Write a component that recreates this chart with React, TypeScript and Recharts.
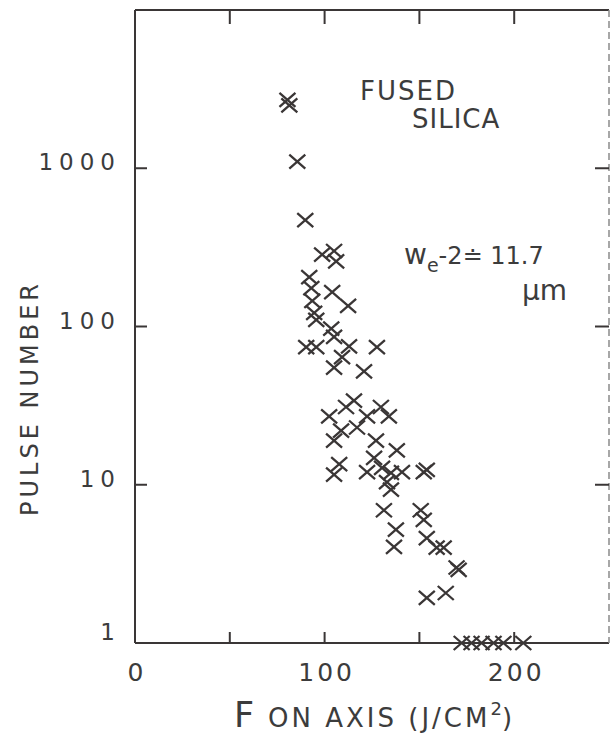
import React from "react";
import { ScatterChart, Scatter, XAxis, YAxis } from "recharts";

const fluence: number[] = [
  80.4, 81.4, 85.6, 89.8, 98.7, 105.0, 106.1, 91.9, 93.0, 104.0,
  93.5, 112.4, 94.5, 95.6, 103.5, 105.0, 90.3, 95.6, 112.9, 109.2,
  127.6, 105.0, 120.8, 115.5, 111.3, 129.7, 102.4, 122.4, 133.9, 108.7,
  117.1, 105.0, 127.1, 138.1, 107.7, 105.0, 126.1, 122.4, 130.3, 135.0,
  140.8, 152.3, 153.9, 132.9, 135.0, 131.3, 150.7, 152.3, 137.6, 136.6,
  153.9, 159.1, 162.8, 169.6, 170.7, 153.9, 163.9, 172.3, 177.5, 182.8,
  189.1, 194.3, 204.8,
];
const pulses: number[] = [
  2700, 2500, 1100, 470, 285, 300, 258, 205, 175, 165,
  145, 135, 122, 110, 97, 86, 74, 74, 75, 64,
  74, 55, 52, 34, 31, 31, 27, 27, 27, 22,
  23, 19, 19, 16.5, 13.5, 11.6, 14.8, 12, 12.8, 11.9,
  12, 12, 12.4, 10.4, 9.3, 6.9, 6.9, 6.0, 5.2, 4.05,
  4.6, 4.0, 4.0, 3.0, 2.9, 1.93, 2.07, 1, 1, 1,
  1, 1, 1,
];
const xTicks: number[] = [0, 50, 100, 150, 200, 250];
const xTickLabels: number[] = [0, 100, 200];
const yTicks: number[] = [1, 10, 100, 1000, 10000];
const yTickLabels: number[] = [1, 10, 100, 1000];

const data = fluence.map((x, i) => ({ x, y: pulses[i] }));

const INK = "#3a3636";
const TXT = "#3c3c3c";
const FONT = "'DejaVu Sans', sans-serif";

const BottomTick = (props: any) => {
  const { x, y, payload } = props;
  const v = payload.value;
  return (
    <g>
      {v > 0 && v < 250 ? (
        <line x1={x} x2={x} y1={y} y2={y - 11} stroke={INK} strokeWidth={2} />
      ) : null}
      {xTickLabels.includes(v) ? (
        <text x={x + 2} y={y + 38} textAnchor="middle" fontSize={25} fill={TXT} fontFamily={FONT} letterSpacing={3}>
          {v}
        </text>
      ) : null}
    </g>
  );
};

const TopTick = (props: any) => {
  const { x, y, payload } = props;
  const v = payload.value;
  if (v <= 0 || v >= 250) return <g />;
  return <line x1={x} x2={x} y1={y} y2={y + 14} stroke={INK} strokeWidth={2} />;
};

const LeftTick = (props: any) => {
  const { x, y, payload } = props;
  const v = payload.value;
  return (
    <g>
      {v > 1 && v < 10000 ? (
        <line x1={x} x2={x + 12} y1={y} y2={y} stroke={INK} strokeWidth={2} />
      ) : null}
      {yTickLabels.includes(v) ? (
        <text x={x - 14} y={v === 1 ? y - 3 : y + 2} textAnchor="end" fontSize={23} fill={TXT} fontFamily={FONT} letterSpacing={6}>
          {v}
        </text>
      ) : null}
    </g>
  );
};

const RightTick = (props: any) => {
  const { x, y, payload } = props;
  const v = payload.value;
  if (v <= 1 || v >= 10000) return <g />;
  return <line x1={x} x2={x - 14} y1={y} y2={y} stroke={INK} strokeWidth={2} />;
};

const Cross = (props: any) => {
  const { cx, cy } = props;
  if (cx == null || cy == null) return <g />;
  return (
    <path
      d={`M${cx - 8},${cy - 7}L${cx + 8},${cy + 7}M${cx - 8},${cy + 7}L${cx + 8},${cy - 7}`}
      stroke={INK}
      strokeWidth={2.3}
      fill="none"
    />
  );
};

const Nothing = () => <g />;

export default function App() {
  return (
    <div style={{ position: "absolute", left: 0, top: 0, width: 610, height: 740, background: "#fff" }}>
      <ScatterChart width={610} height={740} margin={{ top: 9, right: 0, bottom: 96, left: 134 }}>
        <XAxis
          xAxisId="b"
          dataKey="x"
          type="number"
          domain={[0, 250]}
          ticks={xTicks}
          height={1}
          tickSize={0}
          tickMargin={0}
          tickLine={false}
          axisLine={{ stroke: INK, strokeWidth: 2 }}
          tick={<BottomTick />}
          interval={0}
        />
        <XAxis
          xAxisId="t"
          orientation="top"
          dataKey="x"
          type="number"
          domain={[0, 250]}
          ticks={xTicks}
          height={1}
          tickSize={0}
          tickMargin={0}
          tickLine={false}
          axisLine={{ stroke: INK, strokeWidth: 2 }}
          tick={<TopTick />}
          interval={0}
        />
        <YAxis
          yAxisId="l"
          dataKey="y"
          type="number"
          scale="log"
          domain={[1, 10000]}
          ticks={yTicks}
          width={1}
          tickSize={0}
          tickMargin={0}
          tickLine={false}
          axisLine={{ stroke: INK, strokeWidth: 2 }}
          tick={<LeftTick />}
          interval={0}
        />
        <YAxis
          yAxisId="r"
          orientation="right"
          dataKey="y"
          type="number"
          scale="log"
          domain={[1, 10000]}
          ticks={yTicks}
          width={1}
          tickSize={0}
          tickMargin={0}
          tickLine={false}
          axisLine={{ stroke: "#8a8a8a", strokeWidth: 1.5, strokeDasharray: "7 4" }}
          tick={<RightTick />}
          interval={0}
        />
        <Scatter data={data} xAxisId="b" yAxisId="l" shape={<Cross />} isAnimationActive={false} />
        <Scatter data={data} xAxisId="t" yAxisId="r" shape={<Nothing />} isAnimationActive={false} />

        <text
          x={30}
          y={398}
          transform="rotate(-90, 30, 398)"
          textAnchor="middle"
          fontSize={24}
          fill={TXT}
          fontFamily={FONT}
          letterSpacing={4}
          dominantBaseline="central"
        >
          PULSE NUMBER
        </text>
        <text x={373} y={727} textAnchor="middle" fill={TXT} fontFamily={FONT}>
          <tspan fontSize={35}>F</tspan>
          <tspan fontSize={26} dx={14} letterSpacing={3}>ON AXIS (J/CM</tspan>
          <tspan fontSize={18} dy={-12}>2</tspan>
          <tspan fontSize={26} dy={12}>)</tspan>
        </text>
        <text x={360} y={100} fontSize={26} fill={TXT} fontFamily={FONT} letterSpacing={2}>
          FUSED
        </text>
        <text x={412} y={128} fontSize={26} fill={TXT} fontFamily={FONT} letterSpacing={1}>
          SILICA
        </text>
        <text x={404} y={264} fill={TXT} fontFamily={FONT}>
          <tspan fontSize={28}>w</tspan>
          <tspan fontSize={19} dy={8}>e</tspan>
          <tspan fontSize={24} dy={-8}>-2≐ 11.7</tspan>
        </text>
        <text x={522} y={300} fontSize={28} fill={TXT} fontFamily={FONT}>
          μm
        </text>
      </ScatterChart>
    </div>
  );
}
